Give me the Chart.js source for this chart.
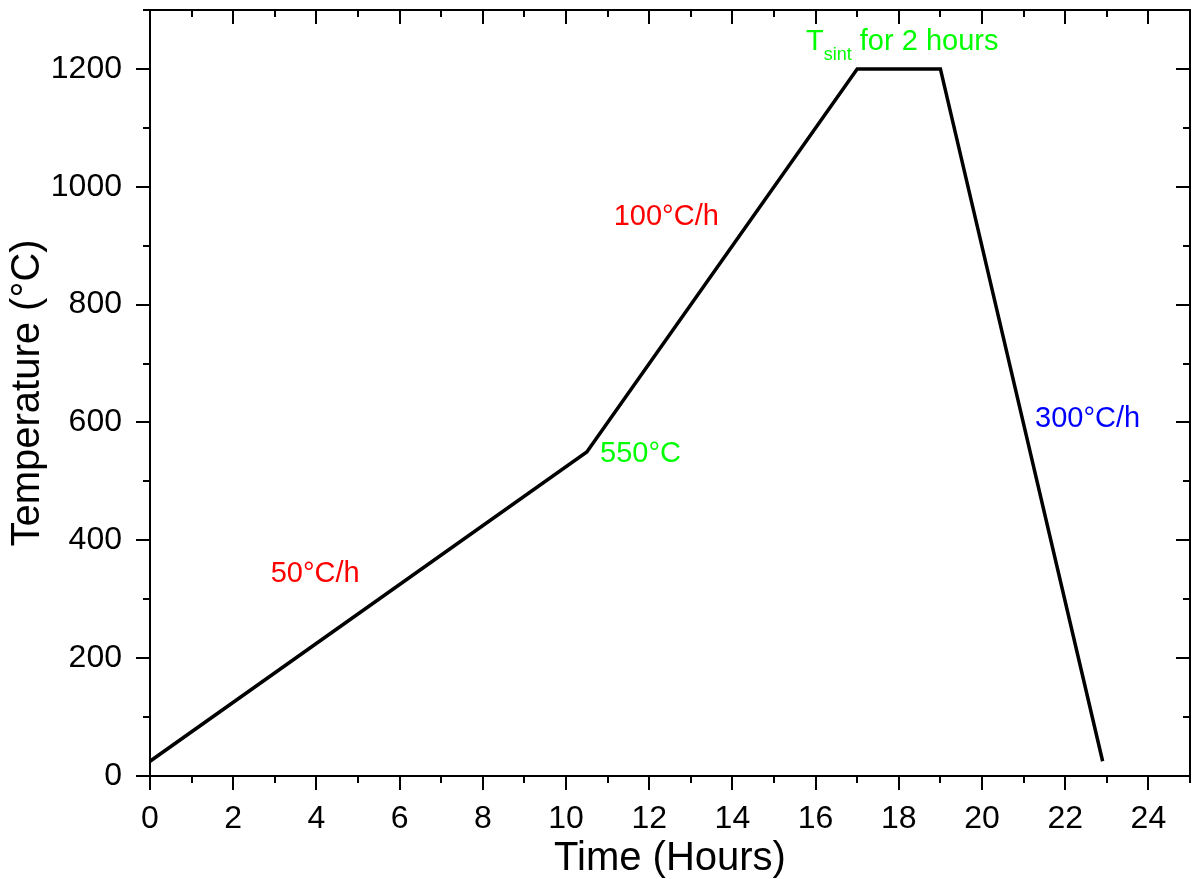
<!DOCTYPE html>
<html>
<head>
<meta charset="utf-8">
<script src="https://cdn.jsdelivr.net/npm/chart.js@4"></script>
<style>
  html, body { margin: 0; padding: 0; background: #fff; }
  #wrap { width: 1195px; height: 879px; }
</style>
</head>
<body>
<div id="wrap"><canvas id="c" width="1195" height="879"></canvas></div>
<script>
// ---- data ----
const timeHours    = [0, 10.5, 17, 19, 22.9];
const temperatureC = [25, 550, 1200, 1200, 25];

const xTickValues = [0, 2, 4, 6, 8, 10, 12, 14, 16, 18, 20, 22, 24];
const yTickValues = [0, 200, 400, 600, 800, 1000, 1200];

const noteTexts  = ['50°C/h', '100°C/h', '550°C', '300°C/h'];
const noteX      = [3.97, 12.41, 11.79, 22.54];
const noteY      = [343, 948, 547, 606];
const noteColors = ['#ff0000', '#ff0000', '#00ff00', '#0000ff'];

const sintNote = { main: 'T', sub: 'sint', rest: ' for 2 hours', x: 15.77, y: 1232, color: '#00ff00' };

const FONT = '"Liberation Sans", Arial, sans-serif';

const frameTicks = {
  id: 'frameTicks',
  afterDraw(chart) {
    const { ctx, chartArea: a, scales: { x, y } } = chart;
    ctx.save();
    ctx.strokeStyle = '#000';
    ctx.lineWidth = 2;
    ctx.lineCap = 'butt';
    // top and right frame
    ctx.beginPath();
    ctx.moveTo(a.left - 1, a.top);
    ctx.lineTo(a.right, a.top);
    ctx.lineTo(a.right, a.bottom + 1);
    ctx.stroke();
    const major = 14, minor = 7;
    ctx.beginPath();
    for (let v = x.min; v <= x.max; v += 1) {
      const px = Math.round(x.getPixelForValue(v));
      const len = (v % 2 === 0) ? major : minor;
      ctx.moveTo(px, a.bottom);
      ctx.lineTo(px, a.bottom + len);
      ctx.moveTo(px, a.top);
      ctx.lineTo(px, a.top + len);
    }
    for (let v = y.min; v <= y.max; v += 100) {
      const py = Math.round(y.getPixelForValue(v));
      const len = (v % 200 === 0) ? major : minor;
      ctx.moveTo(a.left, py);
      ctx.lineTo(a.left - len, py);
      ctx.moveTo(a.right, py);
      ctx.lineTo(a.right - len, py);
    }
    ctx.stroke();

    // annotations
    ctx.textBaseline = 'middle';
    ctx.textAlign = 'center';
    ctx.font = '29px ' + FONT;
    noteTexts.forEach((t, i) => {
      ctx.fillStyle = noteColors[i];
      ctx.fillText(t, x.getPixelForValue(noteX[i]), y.getPixelForValue(noteY[i]));
    });
    // T_sint for 2 hours
    ctx.textAlign = 'left';
    ctx.textBaseline = 'alphabetic';
    ctx.fillStyle = sintNote.color;
    let px = x.getPixelForValue(sintNote.x);
    const py = y.getPixelForValue(sintNote.y);
    ctx.font = '29px ' + FONT;
    ctx.fillText(sintNote.main, px, py);
    px += ctx.measureText(sintNote.main).width;
    ctx.font = '18px ' + FONT;
    ctx.fillText(sintNote.sub, px, py + 10);
    px += ctx.measureText(sintNote.sub).width;
    ctx.font = '29px ' + FONT;
    ctx.fillText(sintNote.rest, px, py);
    ctx.restore();
  }
};

new Chart(document.getElementById('c'), {
  type: 'line',
  data: {
    datasets: [{
      data: timeHours.map((t, i) => ({ x: t, y: temperatureC[i] })),
      borderColor: '#000',
      borderWidth: 3.5,
      pointRadius: 0,
      tension: 0,
      fill: false,
      borderJoinStyle: 'miter'
    }]
  },
  options: {
    responsive: false,
    animation: false,
    events: [],
    layout: { padding: { top: 10, right: 5, left: 0, bottom: 0 } },
    plugins: { legend: { display: false }, tooltip: { enabled: false } },
    scales: {
      x: {
        type: 'linear',
        min: 0, max: 25,
        afterFit(s) { s.height = 103; s.paddingLeft = 0; s.paddingRight = 0; },
        afterBuildTicks(s) { s.ticks = xTickValues.map(v => ({ value: v })); },
        grid: { display: false, drawTicks: false },
        border: { display: true, color: '#000', width: 2 },
        ticks: { color: '#000', font: { family: FONT, size: 32 }, padding: 24, maxRotation: 0, autoSkip: false, callback: v => String(v) },
        title: { display: true, text: 'Time (Hours)', color: '#000', font: { family: FONT, size: 40, lineHeight: 1 }, padding: { top: 0, bottom: 0 } }
      },
      y: {
        type: 'linear',
        min: 0, max: 1300,
        afterFit(s) { s.width = 150; s.paddingTop = 0; s.paddingBottom = 0; },
        afterBuildTicks(s) { s.ticks = yTickValues.map(v => ({ value: v })); },
        grid: { display: false, drawTicks: false },
        border: { display: true, color: '#000', width: 2 },
        ticks: { color: '#000', font: { family: FONT, size: 32 }, padding: 28, autoSkip: false, callback: v => String(v) },
        title: { display: true, text: 'Temperature (°C)', color: '#000', font: { family: FONT, size: 40, lineHeight: 1 }, padding: { top: 8, bottom: 0 } }
      }
    }
  },
  plugins: [frameTicks]
});
</script>
</body>
</html>
